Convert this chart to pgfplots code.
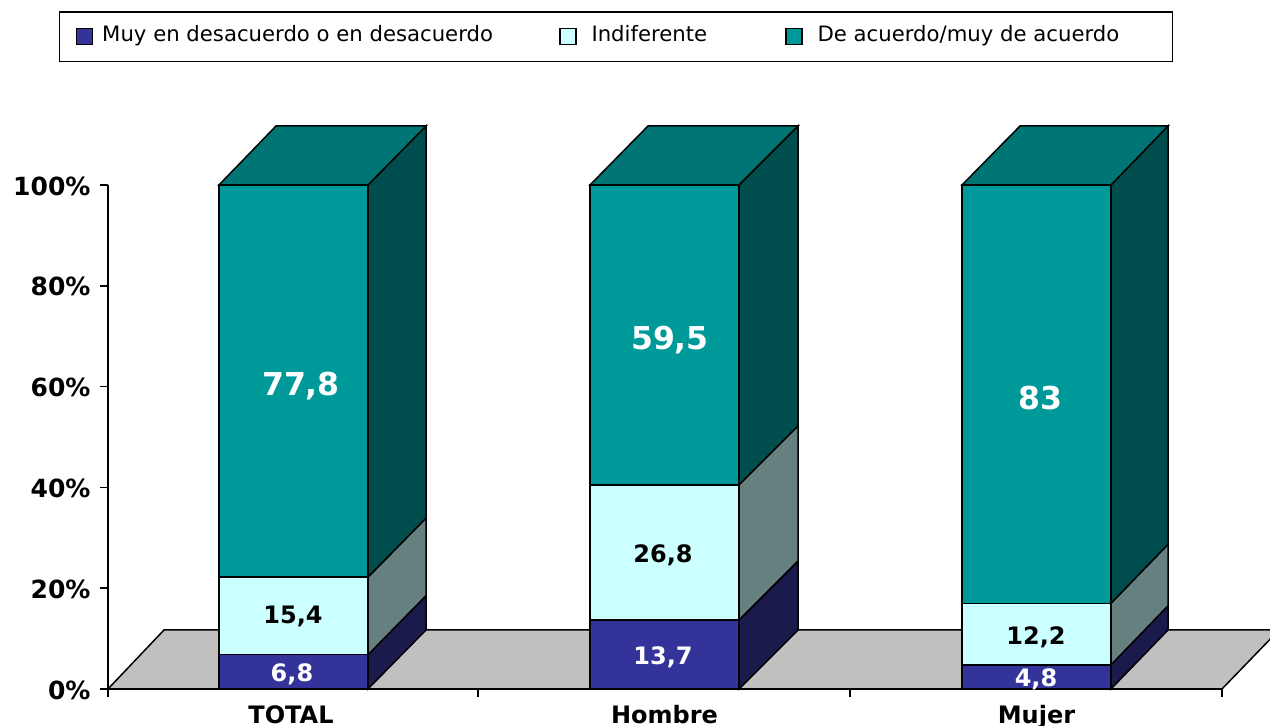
\documentclass[border=0pt]{standalone}
\usepackage{fontspec}
\setmainfont{DejaVu Sans}
\usepackage{pgfplots}
\usepackage{pgfplotstable}
\pgfplotsset{compat=1.18}

\definecolor{tealF}{HTML}{009999}
\definecolor{tealT}{HTML}{007575}
\definecolor{tealS}{HTML}{004D4D}
\definecolor{cyanF}{HTML}{CCFFFF}
\definecolor{cyanS}{HTML}{668080}
\definecolor{blueF}{HTML}{333399}
\definecolor{blueS}{HTML}{1A1A4D}
\definecolor{floorc}{HTML}{C0C0C0}

\pgfplotstableread{
x      low  mid  high
293.5  6.8  15.4 77.8
664.5  13.7 26.8 59.5
1036.5 4.8  12.2 83
}\shares

\pgfplotsset{
  frame/.style={
    scale only axis, width=1114pt, height=504pt,
    xmin=108, xmax=1222, ymin=0, ymax=100,
    clip=false,
  },
  face/.style={draw=black, line width=1.5pt, fill=#1, line join=miter},
  swatch/.style={legend image code/.code={
    \draw[##1, line width=1.5pt] (0pt,-8pt) rectangle (16pt,8pt);}},
}
\tikzset{small/.style={font=\fontsize{24}{25}\selectfont\bfseries},
         large/.style={font=\fontsize{31.5}{32}\selectfont\bfseries, text=white}}
\newcommand{\up}[1]{\raisebox{-5.5pt}[0pt][0pt]{#1}}

\begin{document}
\begin{tikzpicture}
% floor and the depth faces, x in image pixels
\begin{axis}[frame,
    axis x line=bottom, axis y line=left,
    axis line style={-, line width=1.5pt},
    ytick={0,20,40,60,80,100},
    yticklabels={0\%,20\%,40\%,60\%,80\%,100\%},
    y tick label style={font=\fontsize{25}{26}\selectfont\bfseries, xshift=-6pt, yshift=-1pt},
    xtick={291,664.5,1036.5},
    xticklabels={TOTAL,Hombre,Mujer},
    x tick label style={font=\fontsize{24}{25}\selectfont\bfseries, anchor=base, yshift=-27pt},
    major x tick style={draw=none},
    minor xtick={108,478,850,1222},
    tick style={black, line width=1.5pt},
    major tick length=8pt, minor tick length=8pt,
    y tick style={black}, tickwidth=8pt,
    tick align=outside,
]
\addplot[face=floorc] coordinates {(108,0)(164,11.7)(1279,11.7)(1222,0)} --cycle;

% TOTAL
\addplot[face=blueS] coordinates {(368,0)(426,11.7)(426,18.5)(368,6.8)} --cycle;
\addplot[face=cyanS] coordinates {(368,6.8)(426,18.5)(426,33.9)(368,22.2)} --cycle;
\addplot[face=tealS] coordinates {(368,22.2)(426,33.9)(426,111.7)(368,100)} --cycle;
\addplot[face=tealT] coordinates {(219,100)(276,111.7)(426,111.7)(368,100)} --cycle;
% Hombre
\addplot[face=blueS] coordinates {(739,0)(798,11.7)(798,25.4)(739,13.7)} --cycle;
\addplot[face=cyanS] coordinates {(739,13.7)(798,25.4)(798,52.2)(739,40.5)} --cycle;
\addplot[face=tealS] coordinates {(739,40.5)(798,52.2)(798,111.7)(739,100)} --cycle;
\addplot[face=tealT] coordinates {(590,100)(648,111.7)(798,111.7)(739,100)} --cycle;
% Mujer
\addplot[face=blueS] coordinates {(1111,0)(1168,11.7)(1168,16.5)(1111,4.8)} --cycle;
\addplot[face=cyanS] coordinates {(1111,4.8)(1168,16.5)(1168,28.7)(1111,17)} --cycle;
\addplot[face=tealS] coordinates {(1111,17)(1168,28.7)(1168,111.7)(1111,100)} --cycle;
\addplot[face=tealT] coordinates {(962,100)(1020,111.7)(1168,111.7)(1111,100)} --cycle;

\coordinate (pgbl) at (axis cs:0,-7.34);
\coordinate (pgtr) at (axis cs:1270,136.7);
\end{axis}

% front faces
\begin{axis}[frame, hide axis,
    ybar stacked, bar width=149pt,
    legend columns=3,
    legend cell align=left,
    legend style={
      at={(axis cs:59,134.5)}, anchor=north west,
      draw=black, line width=1.5pt, inner xsep=16pt, inner ysep=16pt,
      font=\fontsize{21.2}{24}\selectfont,
      /tikz/column 1/.style={column sep=7pt},
      /tikz/column 2/.style={column sep=64pt},
      /tikz/column 3/.style={column sep=13pt},
      /tikz/column 4/.style={column sep=76pt},
      /tikz/column 5/.style={column sep=13pt},
    },
]
\addplot[face=blueF, swatch] table[x=x, y=low] {\shares};
\addlegendentry{\up{Muy en desacuerdo o en desacuerdo}}
\addplot[face=cyanF, swatch] table[x=x, y=mid] {\shares};
\addlegendentry{\up{Indiferente}}
\addplot[face=tealF, swatch] table[x=x, y=high] {\shares};
\addlegendentry{\up{De acuerdo/muy de acuerdo}\rule{35pt}{0pt}}
\end{axis}

% value labels, stacked plots would paint over them in the axis above
\begin{axis}[frame, hide axis]
\node[small, text=white] at (axis cs:292,3.0) {6,8};
\node[small] at (axis cs:293,14.4) {15,4};
\node[large] at (axis cs:301,60.1) {77,8};
\node[small, text=white] at (axis cs:663,6.2) {13,7};
\node[small] at (axis cs:663,26.6) {26,8};
\node[large] at (axis cs:670,69.2) {59,5};
\node[small, text=white] at (axis cs:1036,2.0) {4,8};
\node[small] at (axis cs:1036,10.3) {12,2};
\node[large] at (axis cs:1040,57.7) {83};
\end{axis}

\pgfresetboundingbox
\useasboundingbox (pgbl) rectangle (pgtr);
\end{tikzpicture}
\end{document}
